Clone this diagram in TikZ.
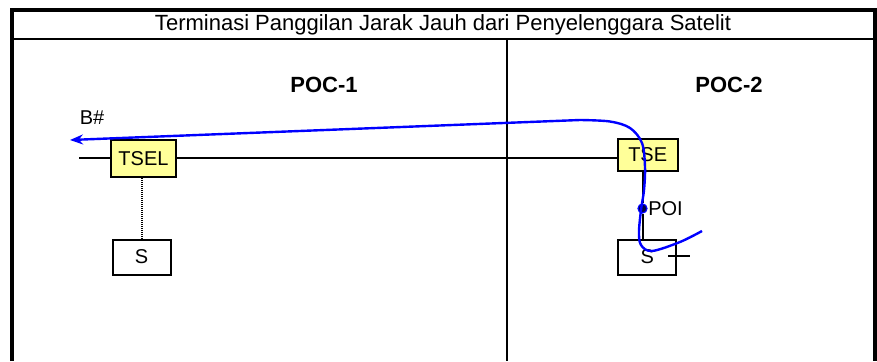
\documentclass[tikz,border=0pt]{standalone}
\usepackage{fontspec}
\setmainfont{Liberation Sans}
\usetikzlibrary{arrows.meta}
\definecolor{tsefill}{RGB}{255,255,153}
\definecolor{callblue}{RGB}{0,0,255}

\begin{document}
\begin{tikzpicture}[x=1pt, y=-1pt]
  \tikzstyle{every node}=[font=\fontsize{20}{23}\selectfont]
  \tikzstyle{exch}=[draw, line width=2pt, fill=tsefill, inner sep=0pt]
  \tikzstyle{sw}=[draw, line width=2pt, inner sep=0pt, minimum width=58pt, minimum height=35pt]
  \tikzstyle{heading}=[font=\fontsize{22}{26}\selectfont\bfseries]
  \tikzstyle{call}=[callblue, line width=2.4pt]

  \useasboundingbox (0,0) rectangle (877,361);

  \draw[line width=4pt] (11.7,361) -- (11.7,10) -- (874.7,10) -- (874.7,361);
  \draw[line width=2pt] (11.7,39.5) -- (874.7,39.5);
  \draw[line width=2pt] (507,39.5) -- (507,361);
  \path (443,24.5) node (title) [font=\fontsize{22}{26}\selectfont]
    {Terminasi Panggilan Jarak Jauh dari Penyelenggara Satelit};

  \path (324,85) node (poc1) [heading] {POC-1};
  \path (729,85) node (poc2) [heading] {POC-2};

  \path (143.5,158.5) node (tsel) [exch, minimum width=65pt, minimum height=37pt] {TSEL};
  \path (647.7,155) node (tse) [exch, minimum width=60pt, minimum height=32pt] {TSE};
  \path (141.5,257) node (s1) [sw] {S};
  \path (647.2,257) node (s2) [sw] {S};
  \path (642.5,208.5) node (poi) [circle, draw=callblue, fill=black!75!blue, line width=1.2pt, inner sep=0pt, minimum size=9pt] {};
  \path (poi.east) node (poilabel) [anchor=west, inner sep=0.5pt] {POI};
  \path (92,118) node (bnum) {B\#};

  \coordinate (lstub) at (79,158);
  \coordinate (rstub1) at (668,256);
  \coordinate (rstub2) at (690,256);
  \coordinate (bend) at (580,120);
  \coordinate (tip) at (70,140);

  \draw[line width=2pt]
    (lstub) -- (lstub -| tsel.west)
    (lstub -| tsel.east) -- (lstub -| tse.west)
    (tse.south -| poi) -- (poi)
    (poi) -- (s2.north -| poi)
    (rstub1) -- (rstub2);

  \draw[line width=2pt, dash pattern=on 1.2pt off 0.8pt]
    (tsel.south -| s1.north) -- (s1.north);

  \draw[call, -{Stealth[length=13pt, width=10pt]}]
    plot[smooth, tension=0.55] coordinates {(702,231) (680,242) (652,251) (641,245)
      (639,232) (641,210) (644,190) (645,167) (642,143) (630,128) (610,121.5) (bend)}
    -- (tip);
\end{tikzpicture}
\end{document}
